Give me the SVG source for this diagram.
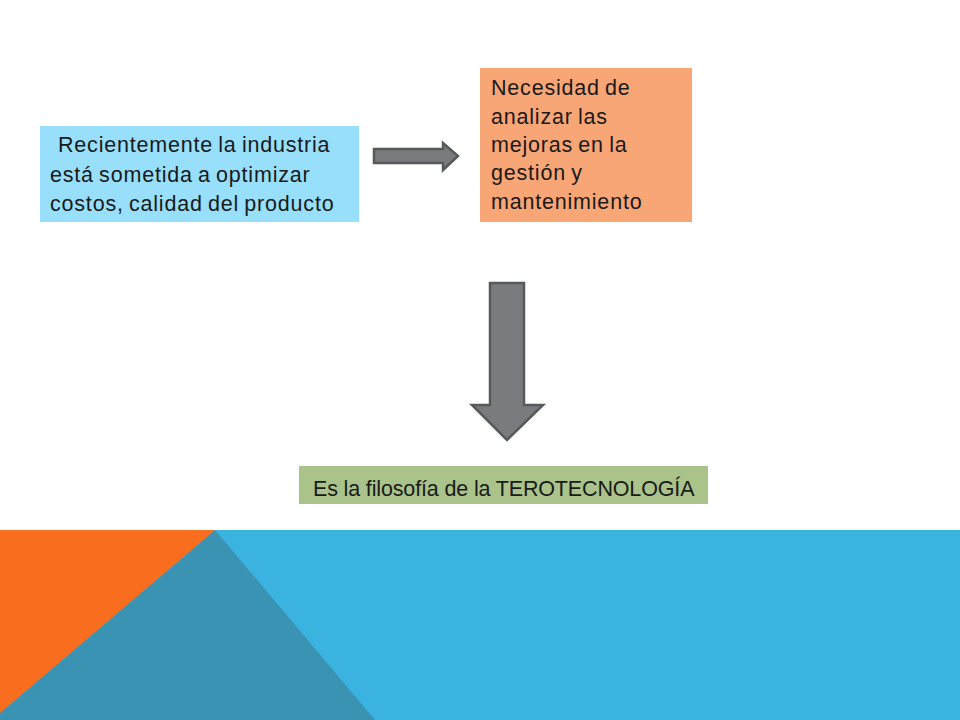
<svg xmlns="http://www.w3.org/2000/svg" width="960" height="720" viewBox="0 0 960 720">
<style>
.t{font-family:"Liberation Sans",Arial,sans-serif;font-size:21.5px;fill:#1a1a1a;letter-spacing:0.8px;word-spacing:-1.5px}
.g{letter-spacing:-0.15px;word-spacing:0}
.arrow{fill:#7a7b7f;stroke:#58595b;stroke-width:2.5;stroke-linejoin:miter}
</style>
<rect width="960" height="720" fill="#ffffff"/>
<g id="background">
<rect x="0" y="530" width="960" height="190" fill="#3bb3e0"/>
<polygon points="215,530 375,720 0,720 0,713" fill="#3a93b3"/>
<polygon points="0,530 215,530 0,713" fill="#f96d1e"/>
</g>
<g id="node-industria">
<rect x="40" y="126" width="319" height="96" fill="#97dffb"/>
<text class="t" x="58" y="152">Recientemente la industria</text>
<text class="t" x="50" y="182">está sometida a optimizar</text>
<text class="t" x="50" y="211">costos, calidad del producto</text>
</g>
<g id="node-necesidad">
<rect x="480" y="68" width="212" height="154" fill="#f9a677"/>
<text class="t" x="491" y="94.5">Necesidad de</text>
<text class="t" x="491" y="123.5">analizar las</text>
<text class="t" x="491" y="152">mejoras en la</text>
<text class="t" x="491" y="180">gestión y</text>
<text class="t" x="491" y="208.5">mantenimiento</text>
</g>
<g id="node-terotecnologia">
<rect x="299" y="466" width="409" height="38" fill="#a9c38a"/>
<text class="t g" x="313" y="496">Es la filosofía de la TEROTECNOLOGÍA</text>
</g>
<g id="connectors">
<polygon class="arrow" points="374,149 443,149 443,143 458,156 443,170 443,163 374,163"/>
<polygon class="arrow" points="490,283 524,283 524,405 543,405 507,440 472,405 490,405"/>
</g>
</svg>
